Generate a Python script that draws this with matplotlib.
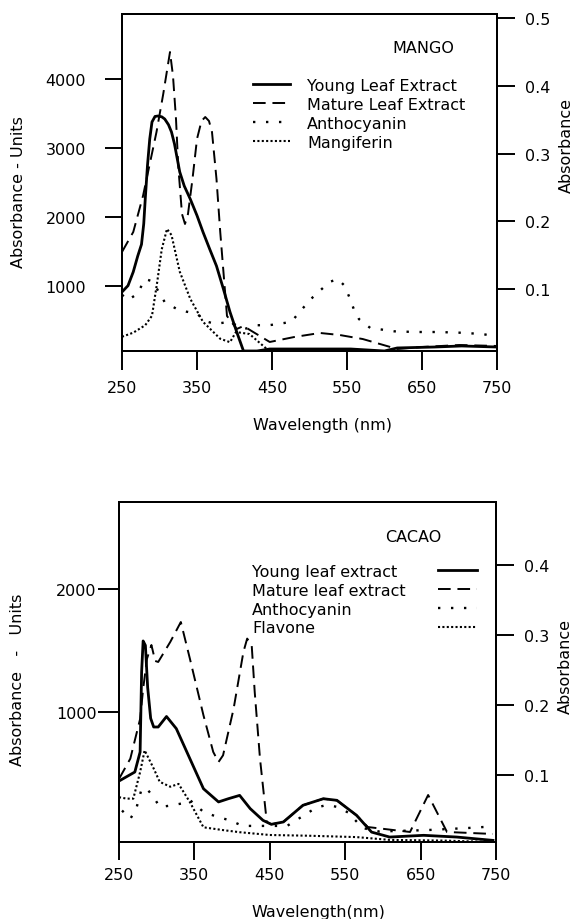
import matplotlib
matplotlib.use("Agg")
import matplotlib.pyplot as plt

plt.rcParams['font.family'] = ['DejaVu Sans']

wl_ticks = [250, 350, 450, 550, 650, 750]

# ---- MANGO (top) ----
# extracts in absorbance units (left axis)
mango_young_wl = [250, 258, 265, 271, 276, 279, 281, 284, 287, 290, 294, 298, 303, 307, 312, 316, 320,
                  323, 327, 333, 341, 350, 358, 367, 376, 385, 394, 403, 412, 430, 447, 500, 555, 600,
                  617, 667, 703, 750]
mango_young = [908, 1000, 1200, 1431, 1600, 1900, 2260, 2750, 3133, 3380, 3460, 3467, 3455, 3423, 3340,
               3234, 3060, 2885, 2653, 2450, 2260, 2020, 1780, 1530, 1286, 960, 617, 326, 50, 50, 79, 79,
               79, 50, 94, 108, 123, 108]
mango_mature_wl = [250, 265, 278, 287, 296, 305, 314, 318, 322, 325, 330, 334, 338, 344, 350, 356, 361,
                   366, 370, 376, 381, 390, 403, 412, 425, 447, 480, 514, 540, 571, 617, 650, 700, 750]
mango_mature = [1490, 1780, 2304, 2769, 3234, 3787, 4397, 4050, 3423, 2740, 2042, 1897, 2042, 2551, 3133,
                3394, 3452, 3394, 3234, 2551, 1780, 559, 370, 413, 326, 181, 254, 312, 283, 224, 79, 108,
                137, 123]
# pigments in absorbance (right axis)
mango_antho_wl = [250, 258, 270, 281, 290, 297, 307, 323, 336, 350, 361, 374, 394, 412, 430, 446, 459,
                  476, 487, 505, 516, 527, 538, 547, 554, 559, 566, 581, 613, 642, 671, 700, 731, 745]
mango_antho = [0.092, 0.084, 0.093, 0.115, 0.112, 0.100, 0.081, 0.071, 0.067, 0.064, 0.053, 0.049, 0.052,
               0.041, 0.047, 0.047, 0.049, 0.052, 0.067, 0.089, 0.100, 0.111, 0.115, 0.105, 0.086, 0.071,
               0.056, 0.043, 0.038, 0.037, 0.037, 0.036, 0.034, 0.031]
mango_mangif_wl = [250, 265, 281, 290, 297, 303, 310, 316, 327, 341, 358, 381, 394, 402, 420, 443]
mango_mangif = [0.030, 0.036, 0.047, 0.061, 0.111, 0.159, 0.189, 0.180, 0.126, 0.086, 0.052, 0.027,
                0.022, 0.037, 0.034, 0.012]
mango_labels = ['Young Leaf Extract', 'Mature Leaf Extract', 'Anthocyanin', 'Mangiferin']

# ---- CACAO (bottom) ----
cacao_young_wl = [250, 271, 278, 280, 282, 285, 288, 292, 296, 302, 313, 326, 344, 362, 382, 395, 410,
                  424, 441, 452, 468, 494, 521, 539, 565, 585, 609, 654, 698, 746]
cacao_young = [443, 516, 678, 1325, 1576, 1540, 1200, 950, 880, 880, 965, 867, 624, 381, 274, 300, 327,
               220, 125, 93, 112, 247, 300, 287, 166, 30, -10, 4, -10, -37]
cacao_mature_wl = [250, 265, 278, 282, 287, 293, 298, 302, 318, 332, 344, 362, 375, 382, 388, 402, 415,
                   420, 426, 430, 437, 446, 452, 468, 494, 521, 539, 565, 580, 636, 660, 685, 746]
cacao_mature = [460, 624, 945, 1187, 1430, 1543, 1414, 1406, 1568, 1729, 1433, 975, 678, 597, 651, 1028,
                1487, 1595, 1541, 1163, 624, 112, 93, 112, 247, 300, 287, 166, 71, 31, 330, 31, 15]
cacao_antho_wl = [254, 265, 273, 280, 287, 296, 304, 318, 333, 344, 362, 380, 397, 414, 446, 473, 483,
                  497, 511, 526, 540, 554, 573, 595, 658, 713, 742]
cacao_antho = [0.049, 0.037, 0.052, 0.080, 0.080, 0.068, 0.054, 0.056, 0.059, 0.064, 0.047, 0.040, 0.035,
               0.027, 0.027, 0.027, 0.034, 0.043, 0.053, 0.057, 0.054, 0.046, 0.024, 0.019, 0.021, 0.024,
               0.026]
cacao_flav_wl = [250, 260, 269, 278, 284, 296, 304, 318, 329, 344, 362, 388, 410, 450, 500, 565, 609,
                 680, 746]
cacao_flav = [0.068, 0.066, 0.066, 0.104, 0.135, 0.109, 0.090, 0.083, 0.087, 0.061, 0.025, 0.021, 0.018,
              0.014, 0.013, 0.011, 0.007, 0.006, 0.004]
cacao_labels = ['Young leaf extract', 'Mature leaf extract', 'Anthocyanin', 'Flavone']

solid = dict(color='black', lw=2.0, ls='-')
dashed = dict(color='black', lw=1.4, ls=(0, (6.5, 3.5)))
sparse = dict(color='black', lw=1.7, ls=(0, (1, 4.5)))
dense = dict(color='black', lw=1.5, ls=(0, (1, 1.1)))

fs = 11.5


def panel(rect, left_lim, right_lim, left_ticks, right_ticks, data,
          ytick_len, ytick_pad, xtick_len, xtick_pad):
    ax = fig.add_axes(rect)
    ax2 = ax.twinx()
    (yw, y), (mw, m), (aw, a), (pw, p) = data
    h1, = ax.plot(yw, y, **solid)
    h2, = ax.plot(mw, m, **dashed)
    h3, = ax2.plot(aw, a, **sparse)
    h4, = ax2.plot(pw, p, **dense)
    ax.set_xlim(250, 750)
    ax.set_ylim(*left_lim)
    ax2.set_ylim(*right_lim)
    ax.set_xticks(wl_ticks)
    ax.set_yticks(left_ticks)
    ax2.set_yticks(right_ticks)
    ax2.set_yticklabels([f'{v:.1f}' for v in right_ticks])
    for a_ in (ax, ax2):
        for s in a_.spines.values():
            s.set_linewidth(1.4)
    ax.tick_params(axis='x', direction='out', length=xtick_len, width=1.4, pad=xtick_pad, labelsize=fs)
    ax.tick_params(axis='y', direction='out', length=ytick_len, width=1.4, pad=ytick_pad, labelsize=fs)
    ax2.tick_params(axis='y', direction='out', length=13, width=1.4, pad=7, labelsize=fs)
    return ax, ax2, [h1, h2, h3, h4]


def labels(ax, ax2, xlabel, ylabel, xpos, ypos, rpos):
    ax.set_xlabel(xlabel, fontsize=fs, va='center', ha='center')
    ax.xaxis.set_label_coords(*xpos)
    ax.set_ylabel(ylabel, fontsize=fs, va='center', ha='center')
    ax.yaxis.set_label_coords(*ypos)
    ax2.set_ylabel('Absorbance', fontsize=fs, va='center', ha='center', rotation=90)
    ax2.yaxis.set_label_coords(*rpos)


fig = plt.figure(figsize=(5.76, 9.2), dpi=100)

# top panel
ax, ax2, hs = panel([0.2118, 0.6174, 0.651, 0.3663], (50, 4950), (0.009, 0.506),
                    [1000, 2000, 3000, 4000], [0.1, 0.2, 0.3, 0.4, 0.5],
                    [(mango_young_wl, mango_young), (mango_mature_wl, mango_mature),
                     (mango_antho_wl, mango_antho), (mango_mangif_wl, mango_mangif)],
                    12, 14, 14, 7)
labels(ax, ax2, 'Wavelength (nm)', 'Absorbance - Units', (0.536, -0.217), (-0.277, 0.475), (1.185, 0.614))
ax2.text(0.803, 0.902, 'MANGO', transform=ax2.transAxes, ha='center', va='center', fontsize=fs)
ax2.legend(hs, mango_labels, loc='upper left', bbox_to_anchor=(0.349, 0.81), frameon=False,
           fontsize=fs, handlelength=2.3, handletextpad=1.1, labelspacing=0.24, borderpad=0,
           borderaxespad=0)

# bottom panel
ax, ax2, hs = panel([0.2066, 0.0837, 0.6545, 0.3696], (-50, 2700), (0.004, 0.490),
                    [1000, 2000], [0.1, 0.2, 0.3, 0.4],
                    [(cacao_young_wl, cacao_young), (cacao_mature_wl, cacao_mature),
                     (cacao_antho_wl, cacao_antho), (cacao_flav_wl, cacao_flav)],
                    15, 1, 13, 5)
labels(ax, ax2, 'Wavelength(nm)', 'Absorbance   -   Units', (0.528, -0.203), (-0.268, 0.479), (1.185, 0.518))
ax2.text(0.78, 0.897, 'CACAO', transform=ax2.transAxes, ha='center', va='center', fontsize=fs)
# text column left-aligned, line keys in a separate column on the right
leg_txt = ax2.legend(hs, cacao_labels, loc='upper left', bbox_to_anchor=(0.353, 0.818), frameon=False,
                     fontsize=fs, handlelength=0, handletextpad=0, labelspacing=0.24, borderpad=0,
                     borderaxespad=0)
ax2.add_artist(leg_txt)
ax2.legend(hs, [' '] * 4, loc='upper right', bbox_to_anchor=(0.95, 0.818), frameon=False,
           fontsize=fs, handlelength=2.44, handletextpad=0, labelspacing=0.24, borderpad=0,
           borderaxespad=0, markerfirst=False)

fig.savefig('out.png', dpi=100)
